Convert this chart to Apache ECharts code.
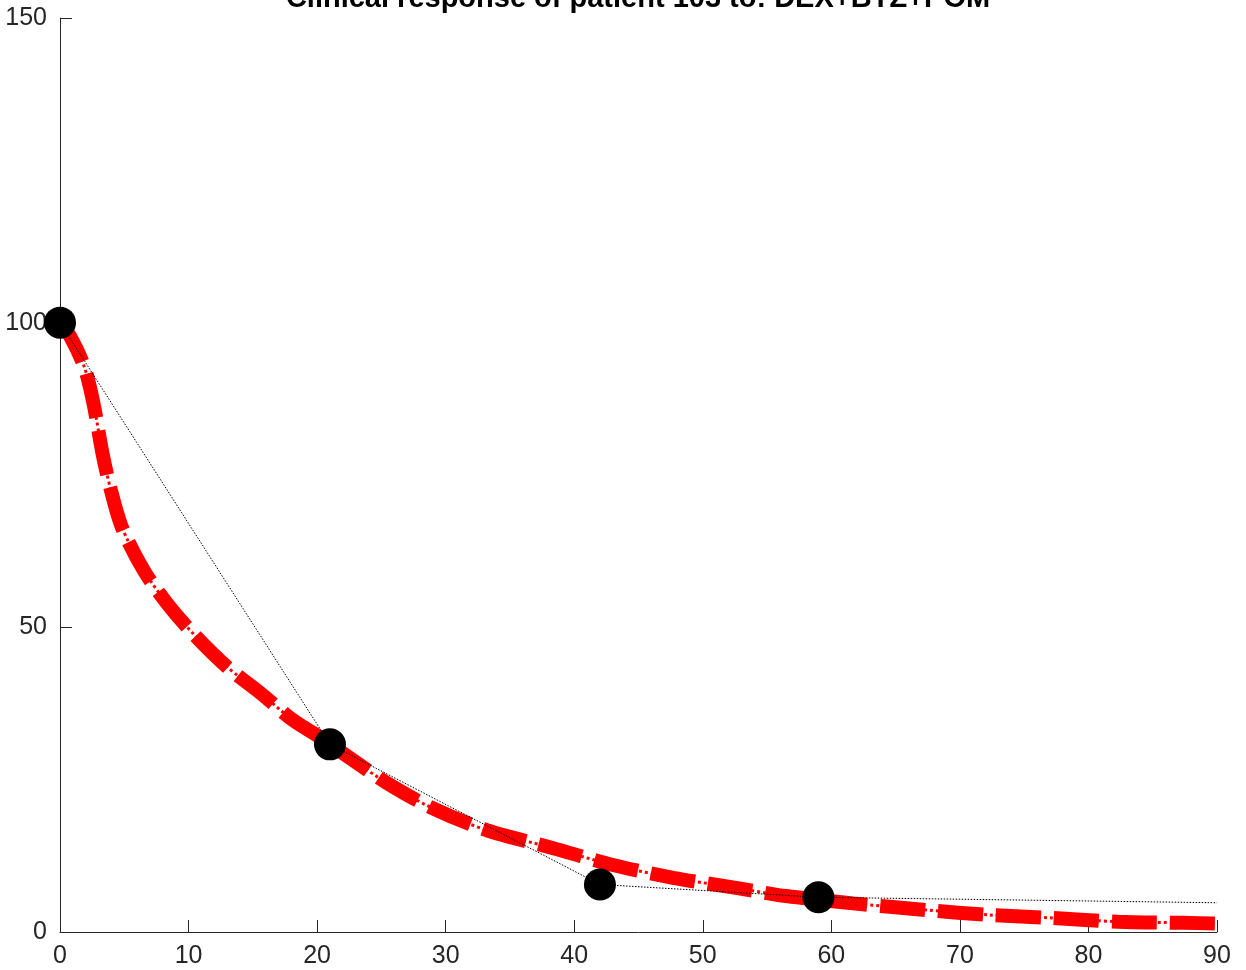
<!DOCTYPE html>
<html>
<head>
<meta charset="utf-8">
<script src="https://cdn.jsdelivr.net/npm/echarts@6/dist/echarts.min.js"></script>
<style>
html,body{margin:0;padding:0;background:#fff;}
#chart{width:1246px;height:970px;}
</style>
</head>
<body>
<div id="chart"></div>
<script>
// ---- data ----
const titleText = 'Clinical response of patient 103 to: DEX+BTZ+POM';
const obsX = [0, 21, 42, 59];
const obsY = [100, 30.8, 7.8, 5.7];
const interpX = [0, 21, 42, 59, 90];
const interpY = [100, 30.8, 7.8, 5.7, 4.8];
const modelX = [0, 0.8, 1.9, 2.6, 3.3, 3.9, 4.8, 6.5, 8.3, 10.3, 13, 15.6, 18.1, 20.2, 22.8, 25.4, 28.8, 33.2, 38.3, 43, 47.7, 52.7, 56.5, 61.7, 67.4, 72.3, 77.2, 82.3, 87.4, 90];
const modelY = [100, 97.7, 92.7, 86.8, 78.6, 73.0, 66.5, 59.4, 54.0, 49.1, 43.5, 39.2, 34.8, 32.0, 28.2, 24.5, 20.5, 16.7, 13.8, 11.0, 8.9, 7.2, 5.9, 4.7, 3.6, 2.8, 2.3, 1.7, 1.5, 1.4];
const xTicks = {min: 0, max: 90, interval: 10};
const yTicks = {min: 0, max: 150, interval: 50};

const zip = (xs, ys) => xs.map((x, i) => [x, ys[i]]);
const axisColor = '#262626';
const font = "'Liberation Sans', Arial, Helvetica, sans-serif";

const chart = echarts.init(document.getElementById('chart'));
chart.setOption({
  animation: false,
  backgroundColor: '#ffffff',
  grid: {left: 60, right: 29, top: 18, bottom: 38, containLabel: false},
  graphic: [{
    type: 'text', x: 638, y: 13, z: 100,
    style: {text: titleText, textAlign: 'center', textVerticalAlign: 'bottom',
      font: "bold 29px " + font, fill: '#000'}
  }],
  xAxis: {
    type: 'value', min: xTicks.min, max: xTicks.max, interval: xTicks.interval,
    axisLine: {show: true, lineStyle: {color: axisColor, width: 1}},
    axisTick: {show: true, inside: true, length: 12, lineStyle: {color: axisColor}},
    axisLabel: {color: axisColor, fontSize: 25, fontFamily: font, margin: 12},
    splitLine: {show: false}
  },
  yAxis: {
    type: 'value', min: yTicks.min, max: yTicks.max, interval: yTicks.interval,
    axisLine: {show: true, lineStyle: {color: axisColor, width: 1}},
    axisTick: {show: true, inside: true, length: 12, lineStyle: {color: axisColor}},
    axisLabel: {color: axisColor, fontSize: 25, fontFamily: font, margin: 13},
    splitLine: {show: false}
  },
  series: [
    {
      type: 'line', data: zip(modelX, modelY), smooth: 0.3, symbol: 'none', z: 2,
      lineStyle: {color: '#ff0000', width: 3, type: [3, 3]}
    },
    {
      type: 'line', data: zip(modelX, modelY), smooth: 0.3, symbol: 'none', z: 3,
      lineStyle: {color: '#ff0000', width: 14, type: [45, 13], cap: 'butt'}
    },
    {
      type: 'line', data: zip(interpX, interpY), symbol: 'none', z: 4,
      lineStyle: {color: '#000000', width: 1, type: [1.5, 1.5]}
    },
    {
      type: 'scatter', data: zip(obsX, obsY), symbol: 'circle', symbolSize: 32, z: 5, clip: false,
      itemStyle: {color: '#000000', opacity: 1}
    }
  ]
});
</script>
</body>
</html>
